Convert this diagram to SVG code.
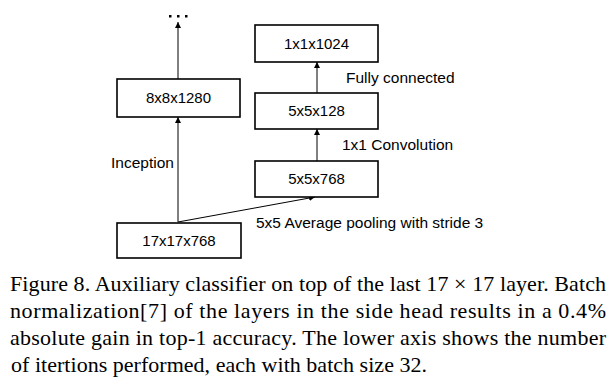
<svg xmlns="http://www.w3.org/2000/svg" width="615" height="384" viewBox="0 0 615 384">
<style>
.box{fill:#fff;stroke:#000;stroke-width:1.6}
.lbl{font-family:"Liberation Sans",Arial,sans-serif;font-size:15px;fill:#000}
.elbl{font-size:15.5px}
.ctr{text-anchor:middle}
.edge{stroke:#000;stroke-width:1;fill:none;marker-end:url(#ah)}
.cap{font-family:"Liberation Serif","Times New Roman",serif;font-size:22px;fill:#000}
</style>
<defs>
<marker id="ah" viewBox="0 0 8 8" refX="8" refY="4" markerWidth="6" markerHeight="6" markerUnits="userSpaceOnUse" orient="auto">
<path d="M0,0 L8,4 L0,8 z" fill="#000"/>
</marker>
</defs>
<rect width="615" height="384" fill="#fff"/>
<g id="connectors">
<line class="edge" x1="178" y1="79" x2="178" y2="22"/>
<line class="edge" x1="178" y1="222" x2="178" y2="117"/>
<line class="edge" x1="178" y1="222" x2="315" y2="197"/>
<line class="edge" x1="317" y1="161" x2="317" y2="129"/>
<line class="edge" x1="317" y1="93" x2="317" y2="62"/>
</g>
<g id="dots">
<rect x="169" y="15" width="2.5" height="2.5" fill="#000"/>
<rect x="177" y="15" width="2.5" height="2.5" fill="#000"/>
<rect x="185" y="15" width="2.5" height="2.5" fill="#000"/>
</g>
<g id="n8x8x1280">
<rect class="box" x="117" y="79" width="123" height="38"/>
<text class="lbl ctr" x="178.5" y="103">8x8x1280</text>
</g>
<g id="n17x17x768">
<rect class="box" x="117" y="223" width="124" height="35"/>
<text class="lbl ctr" x="179" y="246">17x17x768</text>
</g>
<g id="n1x1x1024">
<rect class="box" x="255" y="25" width="123" height="37"/>
<text class="lbl ctr" x="316.5" y="49">1x1x1024</text>
</g>
<g id="n5x5x128">
<rect class="box" x="255" y="93" width="123" height="36"/>
<text class="lbl ctr" x="316.5" y="116">5x5x128</text>
</g>
<g id="n5x5x768">
<rect class="box" x="255" y="161" width="123" height="36"/>
<text class="lbl ctr" x="316.5" y="184">5x5x768</text>
</g>
<g id="labels">
<text class="lbl elbl" x="346" y="83">Fully connected</text>
<text class="lbl elbl" x="342" y="150">1x1 Convolution</text>
<text class="lbl elbl" x="111" y="168">Inception</text>
<text class="lbl elbl" x="256" y="228">5x5 Average pooling with stride 3</text>
</g>
<g id="caption">
<text class="cap" x="10" y="291" textLength="596" lengthAdjust="spacing">Figure 8. Auxiliary classifier on top of the last 17 × 17 layer. Batch</text>
<text class="cap" x="10" y="318" textLength="596" lengthAdjust="spacing">normalization[7] of the layers in the side head results in a 0.4%</text>
<text class="cap" x="10" y="345" textLength="596" lengthAdjust="spacing">absolute gain in top-1 accuracy. The lower axis shows the number</text>
<text class="cap" x="11" y="372" textLength="416" lengthAdjust="spacing">of itertions performed, each with batch size 32.</text>
</g>
</svg>
